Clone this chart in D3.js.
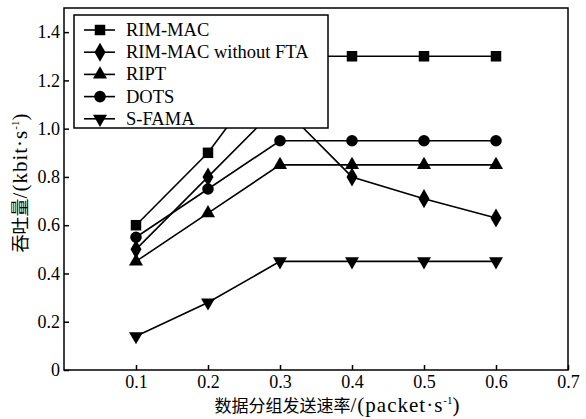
<!DOCTYPE html>
<html>
<head>
<meta charset="utf-8" />
<title>throughput</title>
<script src="https://d3js.org/d3.v7.min.js"></script>
<style>
  body { margin: 0; background: #fff; }
  text { font-family: "Liberation Serif", "DejaVu Serif", serif; fill: #000; }
</style>
</head>
<body>
<svg id="viz"></svg>
<script>
// data
var rates = [0.1, 0.2, 0.3, 0.4, 0.5, 0.6];
var rimMac = [0.60, 0.90, 1.30, 1.30, 1.30, 1.30];
var rimMacNoFta = [0.50, 0.80, 1.10, 0.80, 0.71, 0.63];
var ript = [0.45, 0.65, 0.85, 0.85, 0.85, 0.85];
var dots = [0.55, 0.75, 0.95, 0.95, 0.95, 0.95];
var sFama = [0.14, 0.28, 0.45, 0.45, 0.45, 0.45];
var seriesNames = ["RIM-MAC", "RIM-MAC without FTA", "RIPT", "DOTS", "S-FAMA"];
var xTicks = [0.1, 0.2, 0.3, 0.4, 0.5, 0.6, 0.7];
var yTicks = [0, 0.2, 0.4, 0.6, 0.8, 1.0, 1.2, 1.4];

var series = [
  { name: seriesNames[0], values: rimMac, sym: d3.symbolSquare, size: 110, rot: 0 },
  { name: seriesNames[1], values: rimMacNoFta, sym: d3.symbolDiamond, size: 105, rot: 0 },
  { name: seriesNames[2], values: ript, sym: d3.symbolTriangle, size: 85, rot: 0 },
  { name: seriesNames[3], values: dots, sym: d3.symbolCircle, size: 105, rot: 0 },
  { name: seriesNames[4], values: sFama, sym: d3.symbolTriangle, size: 85, rot: 180 }
];

var W = 586, H = 419;
var pLeft = 64, pRight = 568, pTop = 8, pBottom = 370;

var svg = d3.select("#viz").attr("width", W).attr("height", H);

var x = d3.scaleLinear().domain([0, 0.7]).range([pLeft, pRight]);
var y = d3.scaleLinear().domain([0, 1.5]).range([pBottom, pTop]);

// frame
svg.append("rect")
  .attr("x", pLeft).attr("y", pTop)
  .attr("width", pRight - pLeft).attr("height", pBottom - pTop)
  .attr("fill", "none").attr("stroke", "#000").attr("stroke-width", 1.5);

// axes, ticks inward
var xAxis = d3.axisBottom(x).tickValues(xTicks).tickSizeInner(-5).tickSizeOuter(0)
  .tickPadding(5).tickFormat(d3.format(".1f"));
var gx = svg.append("g").attr("transform", "translate(0," + pBottom + ")").call(xAxis);
gx.select(".domain").remove();
gx.selectAll("line").attr("stroke-width", 1.5);
gx.selectAll("text").style("font-size", "18px").style("font-family", "Liberation Serif");

var yAxis = d3.axisLeft(y).tickValues(yTicks).tickSizeInner(-5).tickSizeOuter(0)
  .tickPadding(4).tickFormat(function(d) { return d === 0 ? "0" : d3.format(".1f")(d); });
var gy = svg.append("g").attr("transform", "translate(" + pLeft + ",0)").call(yAxis);
gy.select(".domain").remove();
gy.selectAll("line").attr("stroke-width", 1.5);
gy.selectAll("text").style("font-size", "18px").style("font-family", "Liberation Serif");

// lines + markers
var line = d3.line()
  .x(function(d, i) { return x(rates[i]); })
  .y(function(d) { return y(d); });

series.forEach(function(s) {
  svg.append("path")
    .attr("d", line(s.values))
    .attr("fill", "none").attr("stroke", "#000").attr("stroke-width", 1.6);
  svg.selectAll(null).data(s.values).enter().append("path")
    .attr("d", d3.symbol().type(s.sym).size(s.size))
    .attr("transform", function(d, i) {
      return "translate(" + x(rates[i]) + "," + y(d) + ") rotate(" + s.rot + ")";
    })
    .attr("fill", "#000");
});

// legend
var lg = svg.append("g");
lg.append("rect")
  .attr("x", 74).attr("y", 15).attr("width", 254).attr("height", 113)
  .attr("fill", "#fff").attr("stroke", "#000").attr("stroke-width", 1.5);
series.forEach(function(s, i) {
  var ly = 30 + i * 22.2;
  lg.append("line").attr("x1", 84).attr("x2", 115).attr("y1", ly).attr("y2", ly)
    .attr("stroke", "#000").attr("stroke-width", 1.6);
  lg.append("path")
    .attr("d", d3.symbol().type(s.sym).size(s.size))
    .attr("transform", "translate(100," + ly + ") rotate(" + s.rot + ")")
    .attr("fill", "#000");
  lg.append("text").attr("x", 126).attr("y", ly + 6)
    .style("font-size", "18.5px").text(s.name);
});

// axis titles
var xt = svg.append("text")
  .attr("x", 337).attr("y", 412)
  .attr("text-anchor", "middle")
  .style("font-size", "21px");
xt.append("tspan").style("font-family", "Noto Sans CJK SC").style("font-size", "17px").text("数据分组发送速率");
xt.append("tspan").style("letter-spacing", "1px").text("/(packet·s");
xt.append("tspan").attr("dy", -8).style("font-size", "11px").text("-1");
xt.append("tspan").attr("dy", 8).text(")");

var yt = svg.append("text")
  .attr("transform", "translate(27,183) rotate(-90)")
  .attr("text-anchor", "middle")
  .style("font-size", "21px");
yt.append("tspan").style("font-family", "Noto Sans CJK SC").style("font-size", "18px").text("吞吐量");
yt.append("tspan").style("letter-spacing", "1px").text("/(kbit·s");
yt.append("tspan").attr("dy", -8).style("font-size", "11px").text("-1");
yt.append("tspan").attr("dy", 8).text(")");
</script>
</body>
</html>
